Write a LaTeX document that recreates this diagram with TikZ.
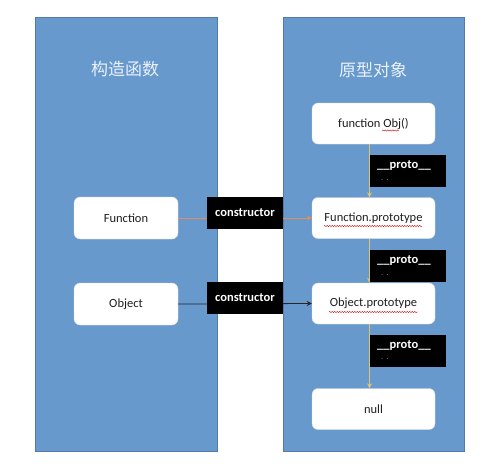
\documentclass[tikz,border=0pt]{standalone}
\usepackage{fontspec}
\setmainfont{Carlito}
\newfontfamily\cjk{Noto Sans CJK SC}
\usetikzlibrary{arrows.meta,decorations.pathmorphing}
\definecolor{panel}{RGB}{103,153,204}
\definecolor{panelborder}{RGB}{82,122,170}
\definecolor{protoarrow}{RGB}{222,196,120}
\definecolor{ctorarrow}{RGB}{226,140,96}
\definecolor{titlecol}{RGB}{235,241,250}
\definecolor{boxtext}{RGB}{30,30,30}
\begin{document}
\begin{tikzpicture}[x=1pt,y=-1pt,
  panelbox/.style={rectangle,draw=panelborder,fill=panel,line width=0.6pt,minimum width=182pt,minimum height=434pt,inner sep=0pt},
  whitebox/.style={rectangle,rounded corners=6pt,fill=white,draw=black!15,line width=0.4pt,minimum width=104pt,minimum height=42pt,inner sep=0pt,text=boxtext,font=\fontsize{12.5}{15}\selectfont},
  protobox/.style={whitebox,minimum width=123pt,minimum height=41pt},
  tagbox/.style={rectangle,fill=black,minimum width=76pt,minimum height=32pt,inner sep=0pt},
  tagtext/.style={text=white,inner sep=0pt,font=\bfseries\fontsize{12.5}{15}\selectfont},
  dotstext/.style={text=black!55,inner sep=0pt,font=\fontsize{9}{10}\selectfont},
  titletext/.style={text=titlecol,inner sep=0pt,font=\cjk\fontsize{17}{20}\selectfont},
  squig/.style={draw=red!80!black,line width=0.4pt,decorate,decoration={snake,amplitude=0.6pt,segment length=2.5pt}},
  protoline/.style={draw=protoarrow,line width=0.8pt,-{Stealth[length=5pt,width=5pt]}},
  ctorline/.style={line width=0.8pt,-{Stealth[length=5pt,width=5pt]}}
]
\useasboundingbox (0,0) rectangle (500,467);
\fill[white] (0,0) rectangle (500,467);

% panels
\node[panelbox] (leftpanel) at (126,234) {};
\node[panelbox,minimum width=181pt] (rightpanel) at (373.5,234) {};
\node[titletext] (lefttitle) at (125,69) {构造函数};
\node[titletext] (righttitle) at (373,70) {原型对象};

% left boxes
\node[whitebox] (fn) at (126,218) {Function};
\node[whitebox] (obj) at (126,304) {Object};

% right boxes
\node[protobox] (objfn) at (373.5,123.5) {function Obj()};
\node[protobox] (fnproto) at (373.5,218) {Function.prototype};
\node[protobox] (objproto) at (373.5,303.5) {Object.prototype};
\node[protobox] (nullbox) at (373.5,409) {null};

% spell-check squiggles
\draw[squig] (382,130.5) -- (399,130.5);
\draw[squig] (324,226) -- (422,226);
\draw[squig] (329,312) -- (418,312);

% constructor arrows
\draw[ctorline,draw=ctorarrow] (fn.east) -- (fnproto.west);
\draw[ctorline,draw=black!85] (obj.east) -- (objproto.west);

% proto arrows
\coordinate (px) at (369.5,0);
\draw[protoline] (objfn.south -| px) -- (fnproto.north -| px);
\draw[protoline] (fnproto.south -| px) -- (objproto.north -| px);
\draw[protoline] (objproto.south -| px) -- (nullbox.north -| px);

% constructor tags
\node[tagbox] (ctag1) at (245,213) {};
\node[tagtext] (ctext1) at (245,212.5) {constructor};
\node[tagbox] (ctag2) at (245,298) {};
\node[tagtext] (ctext2) at (245,297.5) {constructor};

% proto tags
\node[tagbox,minimum width=76pt] (ptag1) at (408,171) {};
\node[tagtext] (ptext1) at (404,166) {\_\_proto\_\_};
\node[dotstext] (pdots1) at (385,180) {.\,\,.};
\node[tagbox,minimum width=76pt] (ptag2) at (408,266) {};
\node[tagtext] (ptext2) at (404,261) {\_\_proto\_\_};
\node[dotstext] (pdots2) at (385,275) {.\,\,.};
\node[tagbox,minimum width=76pt] (ptag3) at (408,350.5) {};
\node[tagtext] (ptext3) at (404,345.5) {\_\_proto\_\_};
\node[dotstext] (pdots3) at (385,359.5) {.\,\,.};
\end{tikzpicture}
\end{document}
